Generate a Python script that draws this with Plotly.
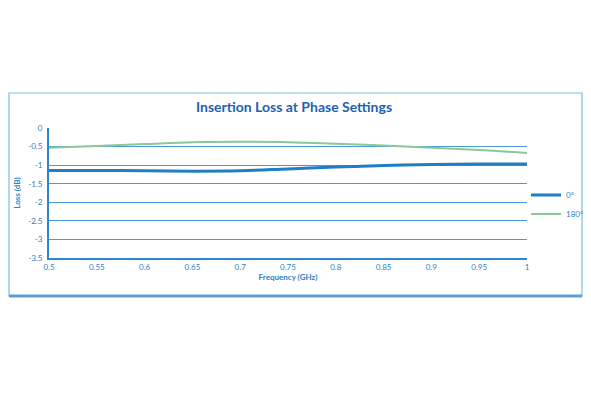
import plotly.graph_objects as go

freq = [0.5, 0.55, 0.6, 0.65, 0.7, 0.75, 0.8, 0.85, 0.9, 0.95, 1.0]
loss_0 = [-1.14, -1.14, -1.15, -1.16, -1.15, -1.10, -1.05, -1.01, -0.98, -0.97, -0.97]
loss_180 = [-0.53, -0.48, -0.43, -0.38, -0.37, -0.38, -0.42, -0.47, -0.53, -0.59, -0.67]

x_ticks = [0.5, 0.55, 0.6, 0.65, 0.7, 0.75, 0.8, 0.85, 0.9, 0.95, 1]
x_tick_labels = ["0.5", "0.55", "0.6", "0.65", "0.7", "0.75", "0.8", "0.85", "0.9", "0.95", "1"]
y_ticks = [0, -0.5, -1, -1.5, -2, -2.5, -3, -3.5]
y_tick_labels = ["0", "-0.5", "-1", "-1.5", "-2", "-2.5", "-3", "-3.5"]

blue = "#1f7fc4"
green = "#8cc79b"
txt = "#2a7fc9"
font = "Lato"

# page body has an 8px margin: compensate so the plot lands where the reference has it
W, H = 640, 397
OFF = 8
PL, PR, PT, PB = 49 - OFF, 527 - OFF, 128 - OFF, 258 - OFF  # plot area in figure px
PW, PH = PR - PL, PB - PT


def px(x):
    return (x - OFF - PL) / PW


def py(y):
    return (PB - (y - OFF)) / PH


fig = go.Figure()
fig.add_trace(go.Scatter(x=freq, y=loss_0, mode="lines", name="0°",
                         line=dict(color=blue, width=3, shape="spline")))
fig.add_trace(go.Scatter(x=freq, y=loss_180, mode="lines", name="180°",
                         line=dict(color=green, width=2, shape="spline")))

fig.update_layout(
    width=W, height=H,
    margin=dict(l=PL, r=W - PR, t=PT, b=H - PB),
    paper_bgcolor="white", plot_bgcolor="white",
    title=dict(text="<b>Insertion Loss at Phase Settings</b>",
               font=dict(family=font, size=14, color="#1d62b0"),
               x=px(294), xref="paper", xanchor="center",
               y=1 - (107 - OFF) / H, yanchor="middle"),
    showlegend=True,
    legend=dict(x=px(526), y=py(204.5), xanchor="left", yanchor="middle",
                font=dict(family=font, size=8, color=txt),
                bgcolor="rgba(0,0,0,0)", itemwidth=30, tracegroupgap=0),
    xaxis=dict(range=[0.5, 1.0], tickvals=x_ticks, ticktext=x_tick_labels,
               showgrid=False, zeroline=False, showline=True, automargin="top",
               linecolor="#2f86cf", linewidth=2,
               tickfont=dict(family=font, size=8, color=txt), ticks="",
               title=dict(text="<b>Frequency (GHz)</b>", standoff=4,
                          font=dict(family=font, size=8, color=txt))),
    yaxis=dict(range=[-3.5, 0.003], tickvals=y_ticks, ticktext=y_tick_labels,
               showgrid=True, gridcolor="#4b9ad8", gridwidth=1, automargin="right",
               zeroline=False, showline=True, linecolor="#2f86cf", linewidth=2,
               tickfont=dict(family=font, size=8, color=txt), ticks="",
               ticklabelstandoff=3,
               title=dict(text="<b>Loss (dB)</b>", standoff=6,
                          font=dict(family=font, size=8, color=txt))),
)

# outer chart frame
fig.add_shape(type="rect", xref="paper", yref="paper",
              x0=px(9), x1=px(582), y0=py(296), y1=py(93),
              line=dict(color="#7dbbe6", width=1.2), layer="below")
fig.add_shape(type="line", xref="paper", yref="paper",
              x0=px(9), x1=px(582), y0=py(296), y1=py(296),
              line=dict(color="#5a9fcf", width=3))

fig.write_html("out.html")
